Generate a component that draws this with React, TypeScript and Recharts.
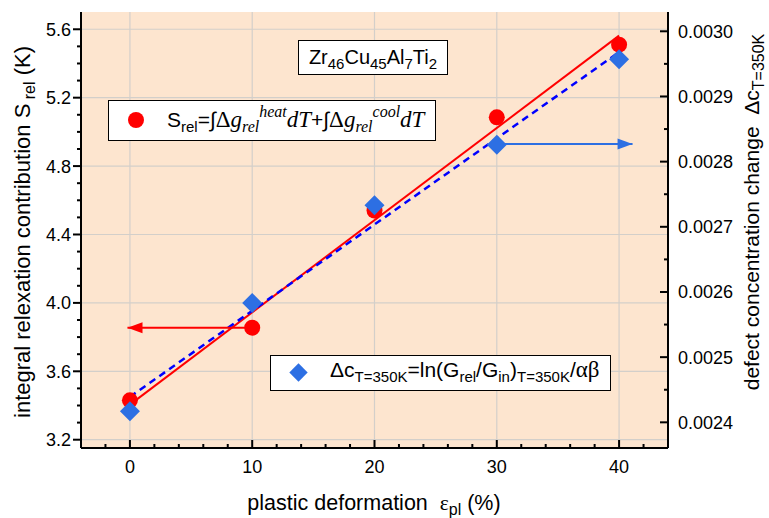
import React from 'react'
import { ComposedChart, XAxis, YAxis, CartesianGrid, Scatter, Line } from 'recharts'

const strain = [0, 10, 20, 30, 40]
const sRel = [3.43, 3.855, 4.54, 5.085, 5.51]
const deltaC = [0.002417, 0.002583, 0.002733, 0.002826, 0.002957]

// linear fits, end points
const fitStrain = [0, 40]
const fitS = [3.405, 5.563]
const fitC = [0.002439, 0.002968]

// axis-pointing arrows
const arrowLeftX = [10, -0.2]
const arrowLeftY = [3.855, 3.855]
const arrowRightX = [30, 41.1]
const arrowRightY = [0.002827, 0.002827]

// ticks
const xTicks = [-2, 0, 2, 4, 6, 8, 10, 12, 14, 16, 18, 20, 22, 24, 26, 28, 30, 32, 34, 36, 38, 40, 42]
const xMajor = [0, 10, 20, 30, 40]
const leftTicks = [3.2, 3.3, 3.4, 3.5, 3.6, 3.7, 3.8, 3.9, 4.0, 4.1, 4.2, 4.3, 4.4, 4.5, 4.6, 4.7, 4.8, 4.9, 5.0, 5.1, 5.2, 5.3, 5.4, 5.5, 5.6]
const leftMajor = [3.2, 3.6, 4.0, 4.4, 4.8, 5.2, 5.6]
const rightTicks = [0.0024, 0.00245, 0.0025, 0.00255, 0.0026, 0.00265, 0.0027, 0.00275, 0.0028, 0.00285, 0.0029, 0.00295, 0.003]
const rightMajor = [0.0024, 0.0025, 0.0026, 0.0027, 0.0028, 0.0029, 0.003]

const SANS = '"Liberation Sans", Arial, sans-serif'
const SERIF = '"Liberation Serif", "Times New Roman", serif'
const RED = '#ff0000'
const BLUE = '#2d6fe3'

const isIn = (list: number[], v: number) => list.some(m => Math.abs(m - v) < 1e-9)

const XTick = (p: any) => {
  const { x, y, payload } = p
  const major = isIn(xMajor, payload.value)
  return (
    <g>
      <line x1={x} x2={x} y1={y} y2={y - (major ? 8 : 4)} stroke="#000" strokeWidth={2} />
      {major && (
        <text x={x} y={y + 25} textAnchor="middle" fontSize={18} fill="#000" fontFamily={SANS}>
          {payload.value}
        </text>
      )}
    </g>
  )
}

const LeftTick = (p: any) => {
  const { x, y, payload } = p
  const major = isIn(leftMajor, payload.value)
  return (
    <g>
      <line x1={x} x2={x - (major ? 8 : 4)} y1={y} y2={y} stroke="#000" strokeWidth={2} />
      {major && (
        <text x={x - 10} y={y + 6.5} textAnchor="end" fontSize={18} fill="#000" fontFamily={SANS}>
          {payload.value.toFixed(1)}
        </text>
      )}
    </g>
  )
}

const RightTick = (p: any) => {
  const { x, y, payload } = p
  const major = isIn(rightMajor, payload.value)
  return (
    <g>
      <line x1={x} x2={x - (major ? 8 : 4)} y1={y} y2={y} stroke="#000" strokeWidth={2} />
      {major && (
        <text x={x + 10} y={y + 6.5} textAnchor="start" fontSize={18} fill="#000" fontFamily={SANS}>
          {payload.value.toFixed(4)}
        </text>
      )}
    </g>
  )
}

const RedDot = (p: any) => <circle cx={p.cx} cy={p.cy} r={8} fill={RED} />
const BlueDiamond = (p: any) => (
  <polygon
    points={`${p.cx},${p.cy - 10} ${p.cx + 10},${p.cy} ${p.cx},${p.cy + 10} ${p.cx - 10},${p.cy}`}
    fill={BLUE}
  />
)

const arrowHead = (color: string, dir: number) => (p: any) => {
  if (p.index !== 1) return <g key={`a${p.index}`} />
  const { cx, cy } = p
  return (
    <polygon
      key={`a${p.index}`}
      points={`${cx},${cy} ${cx - dir * 15},${cy - 5.5} ${cx - dir * 15},${cy + 5.5}`}
      fill={color}
    />
  )
}

const Sub = ({ children, italic, size = 15 }: any) => (
  <span style={{ fontSize: size, position: 'relative', top: 5, fontStyle: italic ? 'italic' : 'normal' }}>{children}</span>
)
const Sup = ({ children }: any) => (
  <span style={{ fontSize: 16, position: 'relative', top: -10, fontStyle: 'italic' }}>{children}</span>
)

export default function App() {
  const points = strain.map((x, i) => ({ x, s: sRel[i], c: deltaC[i] }))
  const fitData = fitStrain.map((x, i) => ({ x, s: fitS[i], c: fitC[i] }))
  const leftArrow = arrowLeftX.map((x, i) => ({ x, v: arrowLeftY[i] }))
  const rightArrow = arrowRightX.map((x, i) => ({ x, v: arrowRightY[i] }))

  return (
    <div style={{ position: 'absolute', left: 0, top: 0, width: 769, height: 518, background: '#fff', fontFamily: SANS }}>
      <ComposedChart width={769} height={518} margin={{ top: 12, right: 0, bottom: 0, left: 0 }}>
        <CartesianGrid
          yAxisId="left"
          fill="#fde5cf"
          stroke="#d3cfca"
          strokeWidth={1.2}
          verticalValues={xMajor}
          horizontalValues={leftMajor}
        />
        <XAxis
          type="number"
          dataKey="x"
          domain={[-4, 44]}
          allowDataOverflow
          ticks={xTicks}
          interval={0}
          height={70}
          tickSize={0}
          tickMargin={0}
          tickLine={false}
          tick={<XTick />}
          axisLine={{ stroke: '#000', strokeWidth: 2 }}
        />
        <XAxis
          xAxisId="top"
          orientation="top"
          type="number"
          dataKey="x"
          domain={[-4, 44]}
          allowDataOverflow
          height={0}
          tick={false}
          tickLine={false}
          axisLine={{ stroke: '#000', strokeWidth: 2 }}
        />
        <YAxis
          yAxisId="left"
          type="number"
          domain={[3.1515, 5.701]}
          allowDataOverflow
          ticks={leftTicks}
          interval={0}
          width={81}
          tickSize={0}
          tickMargin={0}
          tickLine={false}
          tick={<LeftTick />}
          axisLine={{ stroke: '#000', strokeWidth: 2 }}
        />
        <YAxis
          yAxisId="right"
          orientation="right"
          type="number"
          domain={[0.0023606, 0.0030296]}
          allowDataOverflow
          ticks={rightTicks}
          interval={0}
          width={101}
          tickSize={0}
          tickMargin={0}
          tickLine={false}
          tick={<RightTick />}
          axisLine={{ stroke: '#000', strokeWidth: 2 }}
        />
        <Scatter data={points} dataKey="s" yAxisId="left" shape={RedDot} isAnimationActive={false} />
        <Scatter data={points} dataKey="c" yAxisId="right" shape={BlueDiamond} isAnimationActive={false} />
        <Line
          data={fitData}
          dataKey="s"
          yAxisId="left"
          type="linear"
          stroke={RED}
          strokeWidth={2}
          dot={false}
          activeDot={false}
          isAnimationActive={false}
        />
        <Line
          data={fitData}
          dataKey="c"
          yAxisId="right"
          type="linear"
          stroke="#0000ff"
          strokeWidth={2.5}
          strokeDasharray="7 5"
          dot={false}
          activeDot={false}
          isAnimationActive={false}
        />
        <Line
          data={leftArrow}
          dataKey="v"
          yAxisId="left"
          type="linear"
          stroke={RED}
          strokeWidth={2}
          dot={arrowHead(RED, -1)}
          activeDot={false}
          isAnimationActive={false}
        />
        <Line
          data={rightArrow}
          dataKey="v"
          yAxisId="right"
          type="linear"
          stroke={BLUE}
          strokeWidth={2}
          dot={arrowHead(BLUE, 1)}
          activeDot={false}
          isAnimationActive={false}
        />
      </ComposedChart>

      {/* composition label */}
      <div
        style={{
          position: 'absolute', left: 298, top: 40, width: 150, height: 35, boxSizing: 'border-box',
          border: '1.5px solid #000', background: '#fff', fontSize: 20, lineHeight: '32px', textAlign: 'center',
          whiteSpace: 'nowrap',
        }}
      >
        Zr<Sub>46</Sub>Cu<Sub>45</Sub>Al<Sub>7</Sub>Ti<Sub>2</Sub>
      </div>

      {/* legend: S_rel */}
      <div
        style={{
          position: 'absolute', left: 108, top: 100, width: 328, height: 41, boxSizing: 'border-box',
          border: '1.5px solid #000', background: '#fff', fontSize: 21, lineHeight: '38px', whiteSpace: 'nowrap',
        }}
      >
        <span style={{ position: 'absolute', left: 19, top: 11, width: 16, height: 16, borderRadius: 8, background: RED }} />
        <span style={{ position: 'absolute', left: 58, top: 0 }}>
          S<Sub>rel</Sub>=∫<span style={{ fontFamily: SERIF, fontSize: 23 }}>Δ<i>g</i></span>
          <span style={{ fontFamily: SERIF }}><Sub italic size={16}>rel</Sub><Sup>heat</Sup><i style={{ fontSize: 23 }}>dT</i></span>
          +∫<span style={{ fontFamily: SERIF, fontSize: 23 }}>Δ<i>g</i></span>
          <span style={{ fontFamily: SERIF }}><Sub italic size={16}>rel</Sub><Sup>cool</Sup><i style={{ fontSize: 23 }}>dT</i></span>
        </span>
      </div>

      {/* legend: delta c */}
      <div
        style={{
          position: 'absolute', left: 270, top: 355, width: 341, height: 36, boxSizing: 'border-box',
          border: '1.5px solid #000', background: '#fff', fontSize: 21, lineHeight: '32px', whiteSpace: 'nowrap',
        }}
      >
        <span
          style={{
            position: 'absolute', left: 21, top: 10, width: 13, height: 13, background: BLUE, transform: 'rotate(45deg)',
          }}
        />
        <span style={{ position: 'absolute', left: 59, top: -2 }}>
          Δc<Sub>T=350K</Sub>=ln(G<Sub>rel</Sub>/G<Sub>in</Sub>)<Sub>T=350K</Sub>/
          <span style={{ fontFamily: SERIF, fontSize: 23 }}>αβ</span>
        </span>
      </div>

      {/* axis titles */}
      <div
        style={{
          position: 'absolute', left: 23, top: 232, transform: 'translate(-50%, -50%) rotate(-90deg)',
          whiteSpace: 'nowrap', fontSize: 22,
        }}
      >
        integral relexation contribution S<Sub size={16}> rel</Sub> (K)
      </div>
      <div
        style={{
          position: 'absolute', left: 752, top: 212, transform: 'translate(-50%, -50%) rotate(-90deg)',
          whiteSpace: 'nowrap', fontSize: 21,
        }}
      >
        defect concentration change&nbsp;&nbsp;Δc<Sub size={16}>T=350K</Sub>
      </div>
      <div
        style={{
          position: 'absolute', left: 374, top: 503, transform: 'translate(-50%, -50%)',
          whiteSpace: 'nowrap', fontSize: 21.5,
        }}
      >
        plastic deformation&nbsp;&nbsp;<span style={{ fontFamily: SERIF }}>ε</span><Sub size={16}>pl</Sub> (%)
      </div>
    </div>
  )
}
